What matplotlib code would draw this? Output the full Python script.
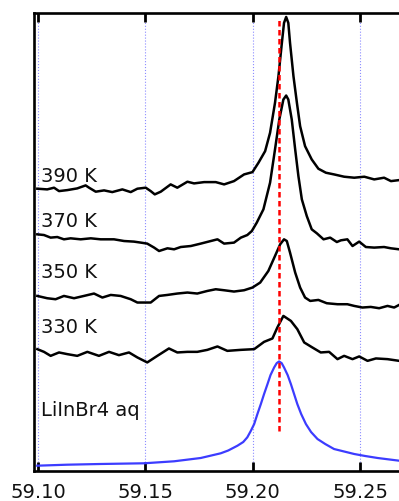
import numpy as np
import matplotlib.pyplot as plt

# x in ppm-like axis units, intensities in arbitrary units (offset stacks)
x390 = [59.0997, 59.1043, 59.1075, 59.1098, 59.1137, 59.1183, 59.1222, 59.1238, 59.1269, 59.1308,
        59.1346, 59.1393, 59.1432, 59.1463, 59.1502, 59.1525, 59.1544, 59.1572, 59.1618, 59.1649,
        59.1696, 59.1727, 59.1774, 59.1828, 59.1867, 59.1913, 59.1960, 59.1999, 59.2027, 59.2058,
        59.2081, 59.2104, 59.2120, 59.2136, 59.2146, 59.2156, 59.2166, 59.2174, 59.2190, 59.2206,
        59.2221, 59.2244, 59.2275, 59.2306, 59.2341, 59.2379, 59.2426, 59.2473, 59.2520, 59.2566,
        59.2612, 59.2644, 59.2682]
y390 = [2.827, 2.820, 2.837, 2.803, 2.813, 2.830, 2.860, 2.837, 2.797, 2.810,
        2.793, 2.820, 2.793, 2.827, 2.837, 2.803, 2.770, 2.797, 2.870, 2.837,
        2.897, 2.880, 2.893, 2.893, 2.870, 2.903, 2.970, 2.993, 3.087, 3.203,
        3.387, 3.687, 3.953, 4.287, 4.487, 4.547, 4.487, 4.287, 3.953, 3.687,
        3.453, 3.253, 3.120, 3.027, 2.987, 2.970, 2.947, 2.937, 2.947, 2.920,
        2.937, 2.903, 2.913]

x370 = [59.0997, 59.1028, 59.1059, 59.1090, 59.1121, 59.1152, 59.1199, 59.1246, 59.1292, 59.1354,
        59.1401, 59.1447, 59.1479, 59.1509, 59.1541, 59.1564, 59.1603, 59.1634, 59.1665, 59.1712,
        59.1758, 59.1805, 59.1836, 59.1867, 59.1913, 59.1945, 59.1975, 59.1996, 59.2019, 59.2050,
        59.2081, 59.2104, 59.2124, 59.2143, 59.2156, 59.2166, 59.2182, 59.2198, 59.2213, 59.2229,
        59.2252, 59.2275, 59.2299, 59.2330, 59.2361, 59.2392, 59.2411, 59.2441, 59.2465, 59.2496,
        59.2527, 59.2566, 59.2612, 59.2644, 59.2682]
y370 = [2.370, 2.363, 2.337, 2.343, 2.320, 2.330, 2.320, 2.330, 2.320, 2.320,
        2.303, 2.297, 2.287, 2.277, 2.237, 2.203, 2.230, 2.220, 2.243, 2.253,
        2.277, 2.303, 2.320, 2.277, 2.287, 2.337, 2.363, 2.403, 2.487, 2.620,
        2.887, 3.220, 3.520, 3.720, 3.760, 3.720, 3.520, 3.220, 2.953, 2.720,
        2.553, 2.420, 2.380, 2.320, 2.337, 2.293, 2.310, 2.320, 2.253, 2.297,
        2.243, 2.237, 2.243, 2.230, 2.220]

x350 = [59.0997, 59.1043, 59.1082, 59.1121, 59.1168, 59.1214, 59.1261, 59.1300, 59.1339, 59.1385,
        59.1432, 59.1463, 59.1494, 59.1525, 59.1564, 59.1603, 59.1649, 59.1696, 59.1742, 59.1789,
        59.1828, 59.1867, 59.1913, 59.1960, 59.1999, 59.2035, 59.2073, 59.2104, 59.2128, 59.2146,
        59.2159, 59.2174, 59.2198, 59.2221, 59.2244, 59.2268, 59.2306, 59.2345, 59.2395, 59.2441,
        59.2473, 59.2511, 59.2550, 59.2589, 59.2628, 59.2659, 59.2682]
y350 = [1.753, 1.730, 1.720, 1.753, 1.730, 1.753, 1.777, 1.737, 1.763, 1.753,
        1.720, 1.687, 1.687, 1.687, 1.753, 1.763, 1.777, 1.787, 1.777, 1.803,
        1.820, 1.810, 1.797, 1.810, 1.837, 1.887, 2.003, 2.153, 2.270, 2.320,
        2.303, 2.187, 1.987, 1.837, 1.737, 1.703, 1.713, 1.680, 1.670, 1.670,
        1.653, 1.637, 1.643, 1.630, 1.653, 1.637, 1.663]

x330 = [59.0997, 59.1028, 59.1059, 59.1098, 59.1137, 59.1183, 59.1230, 59.1284, 59.1331, 59.1377,
        59.1424, 59.1463, 59.1509, 59.1556, 59.1610, 59.1649, 59.1696, 59.1742, 59.1789, 59.1836,
        59.1882, 59.1945, 59.2007, 59.2053, 59.2092, 59.2115, 59.2143, 59.2178, 59.2208, 59.2240,
        59.2278, 59.2317, 59.2356, 59.2395, 59.2426, 59.2465, 59.2496, 59.2535, 59.2574, 59.2628,
        59.2682]
y330 = [1.220, 1.193, 1.153, 1.187, 1.170, 1.153, 1.193, 1.153, 1.193, 1.160,
        1.187, 1.137, 1.087, 1.153, 1.227, 1.187, 1.193, 1.193, 1.213, 1.247,
        1.203, 1.213, 1.220, 1.293, 1.327, 1.437, 1.553, 1.503, 1.420, 1.287,
        1.237, 1.187, 1.193, 1.120, 1.153, 1.120, 1.147, 1.103, 1.127, 1.120,
        1.103]

x_aq = [59.0997, 59.1137, 59.1292, 59.1494, 59.1634, 59.1758, 59.1851, 59.1886, 59.1929, 59.1956,
        59.1975, 59.1991, 59.2007, 59.2022, 59.2038, 59.2053, 59.2069, 59.2083, 59.2100, 59.2112,
        59.2123, 59.2135, 59.2146, 59.2163, 59.2178, 59.2193, 59.2208, 59.2226, 59.2248, 59.2272,
        59.2302, 59.2338, 59.2379, 59.2426, 59.2473, 59.2524, 59.2582, 59.2682]
y_aq = [0.053, 0.063, 0.070, 0.077, 0.097, 0.130, 0.177, 0.205, 0.253, 0.290,
        0.337, 0.400, 0.470, 0.570, 0.670, 0.770, 0.870, 0.960, 1.037, 1.080,
        1.097, 1.080, 1.037, 0.960, 0.870, 0.770, 0.670, 0.570, 0.470, 0.390,
        0.320, 0.270, 0.220, 0.195, 0.170, 0.150, 0.130, 0.103]

labels = ['390 K', '370 K', '350 K', '330 K', 'LiInBr4 aq']
label_y = [2.90, 2.45, 1.947, 1.387, 0.563]
x_ref = 59.2123
ticks = [59.10, 59.15, 59.20, 59.25]

fig = plt.figure(figsize=(3.99, 5.02), dpi=100)
ax = fig.add_axes([0.086, 0.0598, 0.967, 0.913])

ax.grid(axis='x', color='#8c8cff', linestyle=':', linewidth=0.8)
ax.set_axisbelow(True)

for xs, ys in [(x390, y390), (x370, y370), (x350, y350), (x330, y330)]:
    ax.plot(xs, ys, color='black', linewidth=1.8, solid_joinstyle='round')
ax.plot(x_aq, y_aq, color='#3c3cff', linewidth=1.6, solid_joinstyle='round')

ax.vlines(x_ref, 0.40, 4.54, colors='red', linestyles=(0, (2.2, 1.4)), linewidth=1.8)

for lab, ly in zip(labels, label_y):
    ax.text(59.1012, ly, lab, fontsize=14, color='#111111', ha='left', va='baseline')

ax.set_xlim(59.0983, 59.278)
ax.set_ylim(0, 4.59)
ax.set_xticks(ticks)
ax.set_xticklabels(['%.2f' % t for t in ticks])
ax.set_yticks([])
ax.tick_params(axis='x', direction='in', top=True, bottom=True, length=6.5, width=2,
               labelsize=14, pad=8, labelcolor='#111111')
for s in ['left', 'top', 'bottom']:
    ax.spines[s].set_linewidth(1.9)
ax.spines['right'].set_visible(False)

fig.savefig('out.png', dpi=100)
